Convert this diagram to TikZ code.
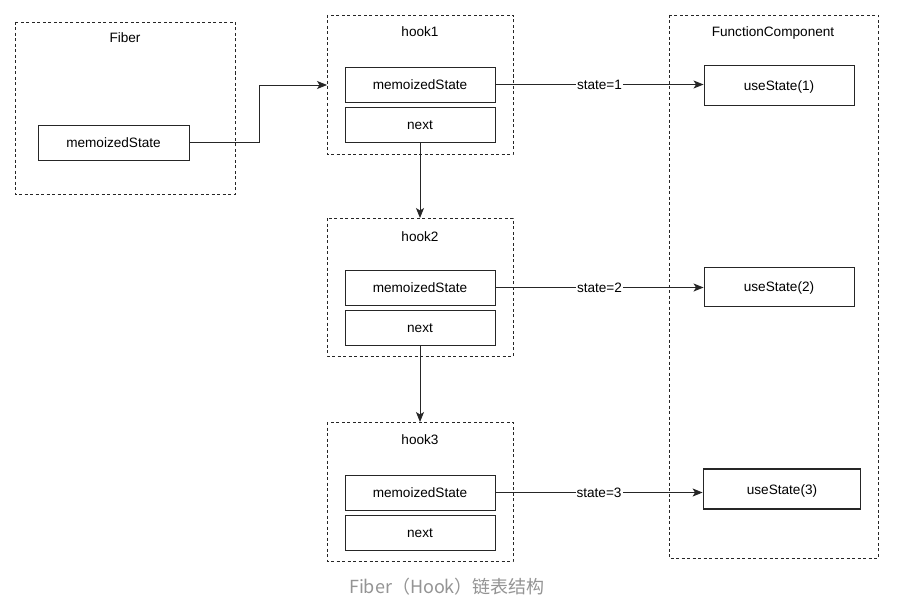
\documentclass[tikz,border=0pt]{standalone}
\usepackage{fontspec}
\setmainfont{Liberation Sans}
\newfontfamily\cjkfont{Noto Sans CJK SC}
\usetikzlibrary{arrows.meta}
\begin{document}
\begin{tikzpicture}[x=1pt,y=-1pt,
  every node/.style={font=\fontsize{13.6}{15}\selectfont, inner sep=0pt, text height=10pt, text depth=0pt},
  group/.style={draw=black!85, dashed, dash pattern=on 3pt off 2.5pt, line width=0.8pt},
  cell/.style={draw=black!85, line width=0.9pt},
  link/.style={draw=black!85, line width=0.9pt, -{Stealth[length=10pt,width=8pt,inset=2.5pt]}},
  lbl/.style={fill=white, inner xsep=1pt}]
\useasboundingbox (0,0) rectangle (908,602);
\fill[white] (0,0) rectangle (908,602);

% containers
\draw[group] (15,22) rectangle (235,194);
\node (fiberT) at (125,38) {Fiber};
\draw[group] (327,15) rectangle (513,154);
\node (h1T) at (420,32) {hook1};
\draw[group] (327,218) rectangle (513,356);
\node (h2T) at (420,236) {hook2};
\draw[group] (327,422) rectangle (513,561);
\node (h3T) at (420,439) {hook3};
\draw[group] (669,15) rectangle (878,558);
\node (fcT) at (773,32) {FunctionComponent};

% anchors on container edges
\coordinate (h1in) at (327,85);
\coordinate (h2top) at (420,218);
\coordinate (h3top) at (420,422);

% Fiber
\node[cell, minimum width=151pt, minimum height=35pt] (fms) at (113.5,142.5) {memoizedState};

% hook cells
\node[cell, minimum width=150pt, minimum height=35pt] (m1) at (420,84.5) {memoizedState};
\node[cell, minimum width=150pt, minimum height=35pt] (n1) at (420,124.5) {next};
\node[cell, minimum width=150pt, minimum height=35pt] (m2) at (420,287.5) {memoizedState};
\node[cell, minimum width=150pt, minimum height=35pt] (n2) at (420,327.5) {next};
\node[cell, minimum width=150pt, minimum height=35pt] (m3) at (420,492.5) {memoizedState};
\node[cell, minimum width=150pt, minimum height=35pt] (n3) at (420,532.5) {next};

% function component calls
\node[cell, minimum width=150pt, minimum height=40pt] (u1) at (779,85) {useState(1)};
\node[cell, minimum width=150pt, minimum height=39pt] (u2) at (779,286.5) {useState(2)};
\node[cell, line width=1.8pt, minimum width=157pt, minimum height=40pt] (u3) at (782,489) {useState(3)};

% connectors
\draw[link] (fms.east) -- (259,142.5) |- (h1in);
\draw[link] (n1.south) -- (h2top);
\draw[link] (n2.south) -- (h3top);
\draw[link] (m1.east) -- node[lbl] {state=1} (u1.west |- m1.east);
\draw[link] (m2.east) -- node[lbl] {state=2} (u2.west |- m2.east);
\draw[link] (m3.east) -- node[lbl] {state=3} (u3.west |- m3.east);

% caption
\node[text=black!42, text height=, text depth=, font=\cjkfont\fontsize{18}{21}\selectfont] (cap) at (447,587) {Fiber（Hook）链表结构};
\end{tikzpicture}
\end{document}
